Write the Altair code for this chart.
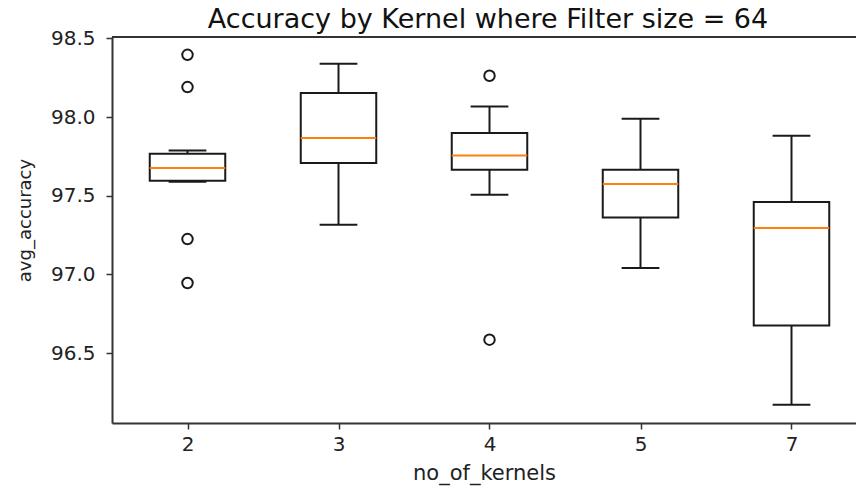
import altair as alt
import pandas as pd

# ---- data ----
kernels = ["2", "3", "4", "5", "7"]
whisker_low = [97.589, 97.316, 97.506, 97.041, 96.173]
q1 = [97.595, 97.708, 97.665, 97.362, 96.676]
median = [97.676, 97.866, 97.756, 97.574, 97.295]
q3 = [97.767, 98.152, 97.898, 97.665, 97.460]
whisker_high = [97.788, 98.338, 98.067, 97.989, 97.881]
outliers = [
    [98.395, 98.190, 97.225, 96.946],
    [],
    [98.262, 96.586],
    [],
    [],
]
title_text = "Accuracy by Kernel where Filter size = 64"

BOX_HALF = 0.25
CAP_HALF = 0.125
W, H = 744, 386
X_DOMAIN = [0.5, 0.5 + W / 151.0]
Y_DOMAIN = [96.057, 98.508]

pos = list(range(1, len(kernels) + 1))
box_df = pd.DataFrame({
    "kernel": kernels,
    "pos": pos,
    "box_l": [p - BOX_HALF for p in pos],
    "box_r": [p + BOX_HALF for p in pos],
    "cap_l": [p - CAP_HALF for p in pos],
    "cap_r": [p + CAP_HALF for p in pos],
    "lo": whisker_low,
    "q1": q1,
    "med": median,
    "q3": q3,
    "hi": whisker_high,
})
out_df = pd.DataFrame(
    [{"kernel": k, "pos": p, "value": v} for k, p, vals in zip(kernels, pos, outliers) for v in vals]
)

label_expr = "[" + ",".join(f"'{k}'" for k in kernels) + "][datum.value - 1]"

FONT = "DejaVu Sans"
xscale = alt.Scale(domain=X_DOMAIN, nice=False, zero=False)
yscale = alt.Scale(domain=Y_DOMAIN, nice=False, zero=False)
xaxis = alt.Axis(
    values=pos, labelExpr=label_expr, title="no_of_kernels", grid=False,
    labelFont=FONT, labelFontSize=20, labelColor="#222", labelPadding=5,
    titleFont=FONT, titleFontSize=21, titleFontWeight="normal", titleColor="#222",
    titlePadding=8, tickSize=6, tickColor="#333", tickWidth=1.5,
    domainColor="#333", domainWidth=2,
)
yaxis = alt.Axis(
    values=[96.5, 97.0, 97.5, 98.0, 98.5], format=".1f", title="avg_accuracy", grid=False,
    labelFont=FONT, labelFontSize=20, labelColor="#222", labelPadding=11,
    titleFont=FONT, titleFontSize=18, titleFontWeight="normal", titleColor="#222",
    titlePadding=16, titleY=183, tickSize=6, tickColor="#333", tickWidth=1.5,
    domainColor="#333", domainWidth=2,
)


def X(field):
    return alt.X(f"{field}:Q", scale=xscale, axis=xaxis)


def Y(field):
    return alt.Y(f"{field}:Q", scale=yscale, axis=yaxis)


base = alt.Chart(box_df)

lower_whisker = base.mark_rule(color="#1a1a1a", strokeWidth=2).encode(
    x=X("pos"), y=Y("lo"), y2="q1:Q")
upper_whisker = base.mark_rule(color="#1a1a1a", strokeWidth=2).encode(
    x=X("pos"), y=Y("q3"), y2="hi:Q")
low_cap = base.mark_rule(color="#1a1a1a", strokeWidth=2).encode(
    x=X("cap_l"), x2="cap_r:Q", y=Y("lo"))
high_cap = base.mark_rule(color="#1a1a1a", strokeWidth=2).encode(
    x=X("cap_l"), x2="cap_r:Q", y=Y("hi"))
boxes = base.mark_rect(fill="white", stroke="#1a1a1a", strokeWidth=2).encode(
    x=X("box_l"), x2="box_r:Q", y=Y("q1"), y2="q3:Q")
medians = base.mark_rule(color="#ff7f0e", strokeWidth=2).encode(
    x=X("box_l"), x2="box_r:Q", y=Y("med"))
fliers = alt.Chart(out_df).mark_point(
    shape="circle", filled=False, color="#1a1a1a", strokeWidth=2, size=110, opacity=1
).encode(x=X("pos"), y=Y("value"))
top_spine = base.mark_rule(color="#333", strokeWidth=2).encode(
    x=alt.value(0), x2=alt.value(W), y=alt.value(0))
title_mark = alt.Chart(pd.DataFrame({"t": [title_text]})).mark_text(
    font=FONT, fontSize=27, color="#111", align="center", baseline="alphabetic"
).encode(text="t:N", x=alt.value(W / 2 + 4), y=alt.value(-9))

chart = alt.layer(
    lower_whisker, upper_whisker, low_cap, high_cap, boxes, medians, fliers, top_spine,
    title_mark,
).properties(
    width=W,
    height=H,
    autosize=alt.AutoSizeParams(type="none"),
    padding={"left": 112, "top": 37, "right": 0, "bottom": 65},
).configure_view(stroke=None).configure(background="white")

chart.save("out.html", embed_options={"renderer": "svg", "actions": False})
